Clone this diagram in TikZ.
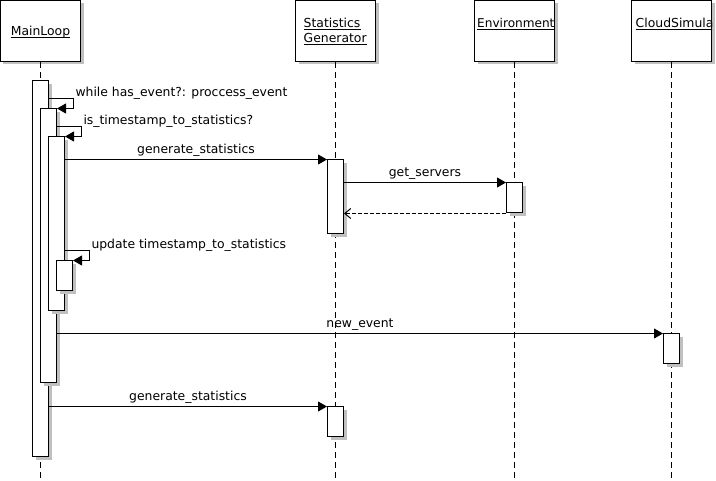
\documentclass[tikz,border=0pt]{standalone}
\usepackage{fontspec}
\setmainfont{DejaVu Sans}
\usetikzlibrary{arrows.meta,shadows,calc}
\definecolor{shadowgray}{RGB}{192,192,192}
\begin{document}
\begin{tikzpicture}[x=1pt,y=-1pt,
  font=\fontsize{12.4}{15}\selectfont,
  shad/.style={drop shadow={shadow xshift=3pt, shadow yshift=-3pt, fill=shadowgray, opacity=1}},
  hbox/.style={draw, fill=white, line width=1pt, minimum width=80pt, minimum height=61pt, inner sep=0pt, shad},
  act/.style={draw, fill=white, line width=1pt, minimum width=16pt, inner sep=0pt, anchor=north, shad},
  life/.style={line width=1pt, dash pattern=on 6pt off 4pt},
  msg/.style={line width=1pt, -{Triangle[length=9pt,width=10pt]}},
  ret/.style={line width=1pt, dash pattern=on 4pt off 2pt, -{Straight Barb[length=6pt,width=10pt]}},
  htext/.style={inner sep=0pt, anchor=base west},
  uline/.style={line width=0.9pt},
  lbl/.style={inner sep=0pt, anchor=base}
]
\fill[white] (-0.5,-0.5) rectangle (715.5,480.5);
\useasboundingbox (-0.5,-0.5) rectangle (715.5,480.5);

% headers
\node[hbox] (hML) at (40,30.5) {};
\node[hbox] (hSG) at (335,30.5) {};
\node[hbox] (hEnv) at (514,30.5) {};
\node[hbox] (hCS) at (671,30.5) {};

\node[htext, anchor=base] (tML) at (40,35) {MainLoop};
\draw[uline] ([yshift=-1.5pt]tML.base west) -- ([yshift=-1.5pt]tML.base east);
\node[htext] (tSG1) at (303,27) {Statistics};
\draw[uline] ([yshift=-1.5pt]tSG1.base west) -- ([yshift=-1.5pt]tSG1.base east);
\node[htext] (tSG2) at (303,42) {Generator};
\draw[uline] ([yshift=-1.5pt]tSG2.base west) -- ([yshift=-1.5pt]tSG2.base east);
\node[htext, font=\fontsize{12.1}{15}\selectfont] (tEnv) at (476.5,27) {Environment};
\draw[uline] ([yshift=-1.5pt]tEnv.base west) -- ([yshift=-1.5pt]tEnv.base east);
\begin{scope}
  \clip (hCS.north west) rectangle (hCS.south east);
  \node[htext] (tCS) at (635,27) {CloudSimula};
  \draw[uline] ([yshift=-1.5pt]tCS.base west) -- ([yshift=-1.5pt]tCS.base east);
\end{scope}

% lifelines
\coordinate (eML) at (40,481);
\coordinate (eSG) at (335,481);
\coordinate (eEnv) at (514,481);
\coordinate (eCS) at (671,481);
\draw[life] (hML.south) -- (eML);
\draw[life] (hSG.south) -- (eSG);
\draw[life] (hEnv.south) -- (eEnv);
\draw[life] (hCS.south) -- (eCS);

% activations
\node[act, minimum height=376pt] (m1) at (40,80) {};
\node[act, minimum height=274pt] (m2) at (48,108) {};
\node[act, minimum height=174pt] (m3) at (56,136) {};
\node[act, minimum height=30pt] (m4) at (64,260) {};
\node[act, minimum height=74pt] (s1) at (335,159) {};
\node[act, minimum height=30pt] (e1) at (514,182) {};
\node[act, minimum height=30pt] (c1) at (671,333) {};
\node[act, minimum height=30pt] (s2) at (335,406) {};

% self calls
\draw[msg] ($(m2.north -| m1.east)+(0,-10)$) -- ++(24,0)
  node[lbl, anchor=base west, xshift=2pt, yshift=1.5pt] (l1) {while has\_event?: proccess\_event}
  -- ++(0,10) -- (m2.north east);
\draw[msg] ($(m3.north -| m2.east)+(0,-10)$) -- ++(24,0)
  node[lbl, anchor=base west, xshift=2pt, yshift=1.5pt] (l2) {is\_timestamp\_to\_statistics?}
  -- ++(0,10) -- (m3.north east);
\draw[msg] ($(m4.north -| m3.east)+(0,-10)$) -- ++(24,0)
  node[lbl, anchor=base west, xshift=2pt, yshift=1.5pt] (l3) {update timestamp\_to\_statistics}
  -- ++(0,10) -- (m4.north east);

% messages
\draw[msg] (s1.north west -| m3.east) -- node[lbl, yshift=6pt] (l4) {generate\_statistics} (s1.north west);
\draw[msg] (e1.north west -| s1.east) -- node[lbl, yshift=6pt] (l5) {get\_servers} (e1.north west);
\draw[ret] (e1.south west) -- (e1.south west -| s1.east);
\draw[msg] (c1.north west -| m2.east) -- node[lbl, yshift=6pt] (l6) {new\_event} (c1.north west);
\draw[msg] (s2.north west -| m1.east) -- node[lbl, yshift=6pt] (l7) {generate\_statistics} (s2.north west);
\end{tikzpicture}
\end{document}
